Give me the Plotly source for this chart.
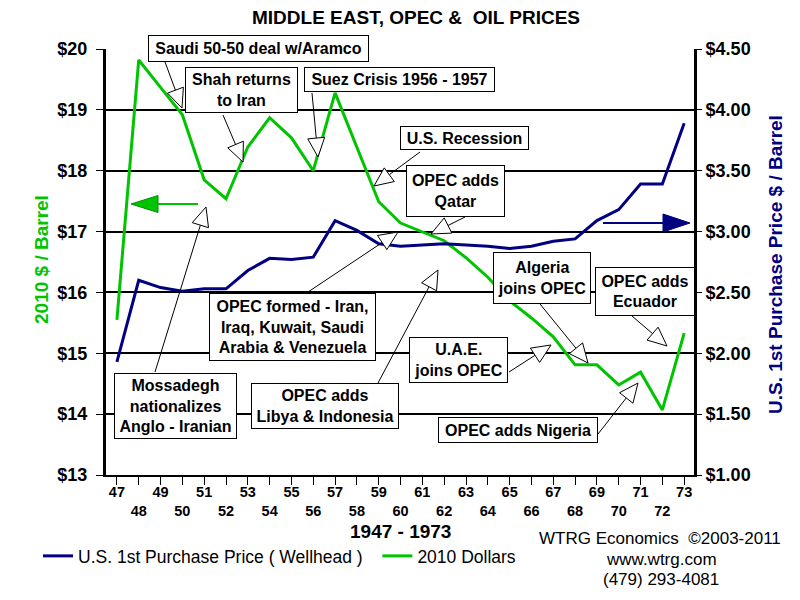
import math
import plotly.graph_objects as go

# ---------------- data ----------------
years = list(range(1947, 1974))
tick_text = [str(y % 100) if y % 2 == 1 else "<br>" + str(y % 100) for y in years]

price_2010 = [15.55, 19.82, 19.37, 18.92, 17.85, 17.54, 18.39, 18.87, 18.54, 18.00,
              19.28, 18.39, 17.49, 17.14, 16.99, 16.85, 16.57, 16.25, 15.86, 15.58,
              15.27, 14.81, 14.81, 14.48, 14.69, 14.07, 15.33]

price_nominal = [1.93, 2.60, 2.54, 2.51, 2.53, 2.53, 2.68, 2.78, 2.77, 2.79,
                 3.09, 3.01, 2.90, 2.88, 2.89, 2.90, 2.89, 2.88, 2.86, 2.88,
                 2.92, 2.94, 3.09, 3.18, 3.39, 3.39, 3.89]

GREEN = "#00C400"
NAVY = "#000080"
FONT = "Arial, Liberation Sans, sans-serif"

# plot area in pixels
L, R, T, B = 106, 694, 49, 475


def px(x):
    return (x - L) / (R - L)


def py(y):
    return (B - y) / (B - T)


fig = go.Figure()
fig.add_trace(go.Scatter(x=years, y=price_nominal, yaxis="y2", mode="lines",
                         line=dict(color=NAVY, width=3),
                         name="U.S. 1st Purchase Price ( Wellhead )\u00a0\u00a0"))
fig.add_trace(go.Scatter(x=years, y=price_2010, mode="lines",
                         line=dict(color=GREEN, width=3),
                         name="2010 Dollars"))

shapes = []


def add_arrow(tail, tip, head_len=19, half_w=8.5, color="black", fill="white",
              shaft_w=1, edge_w=1, edge_color="black"):
    dx, dy = tip[0] - tail[0], tip[1] - tail[1]
    d = math.hypot(dx, dy)
    ux, uy = dx / d, dy / d
    bx, by = tip[0] - ux * head_len, tip[1] - uy * head_len
    pxp, pyp = -uy, ux
    shapes.append(dict(type="line", xref="paper", yref="paper",
                       x0=px(tail[0]), y0=py(tail[1]), x1=px(bx), y1=py(by),
                       line=dict(color=color, width=shaft_w)))
    p1 = (bx + pxp * half_w, by + pyp * half_w)
    p2 = (bx - pxp * half_w, by - pyp * half_w)
    path = "M {:.5f},{:.5f} L {:.5f},{:.5f} L {:.5f},{:.5f} Z".format(
        px(tip[0]), py(tip[1]), px(p1[0]), py(p1[1]), px(p2[0]), py(p2[1]))
    shapes.append(dict(type="path", xref="paper", yref="paper", path=path,
                       fillcolor=fill, line=dict(color=edge_color, width=edge_w)))


# annotation arrows (tail, tip) in pixels
arrows = [
    ((165, 62), (182, 108)),
    ((223, 115), (243, 162)),
    ((312, 93), (318, 157)),
    ((420, 152), (374, 186)),
    ((465, 217), (431, 234)),
    ((308, 292), (398, 232)),
    ((155, 372), (206, 207)),
    ((378, 383), (438, 270)),
    ((540, 304), (588, 363)),
    ((632, 316), (667, 346)),
    ((509, 372), (551, 345)),
    ((598, 434), (638, 383)),
]
for tail, tip in arrows:
    add_arrow(tail, tip)

# series direction arrows
add_arrow((198, 204), (131, 204), head_len=27, half_w=8.5, color=GREEN, fill=GREEN,
          shaft_w=2, edge_color="#009000")
add_arrow((603, 223), (690, 223), head_len=27, half_w=9, color=NAVY, fill=NAVY,
          shaft_w=2, edge_color=NAVY)

# text boxes: text, center px, box size
boxes = [
    ("Saudi 50-50 deal w/Aramco", (258.5, 48.5), (221, 27)),
    ("Shah returns<br>to Iran", (241.5, 90), (113, 46)),
    ("Suez Crisis 1956 - 1957", (399.5, 79.5), (191, 25)),
    ("U.S. Recession", (464.5, 138), (129, 24)),
    ("OPEC adds<br>Qatar", (455.5, 191), (99, 52)),
    ("OPEC formed - Iran,<br>Iraq, Kuwait, Saudi<br>Arabia &amp; Venezuela", (292.5, 327), (167, 68)),
    ("Mossadegh<br>nationalizes<br>Anglo - Iranian", (175.5, 406), (123, 66)),
    ("OPEC adds<br>Libya &amp; Indonesia", (325, 406), (148, 46)),
    ("Algeria<br>joins OPEC", (542, 278), (98, 52)),
    ("OPEC adds<br>Ecuador", (645, 291.5), (100, 49)),
    ("U.A.E.<br>joins OPEC", (458.5, 360), (99, 46)),
    ("OPEC adds Nigeria", (518, 430), (160, 26)),
]
annotations = []
for text, (cx, cy), (w, h) in boxes:
    annotations.append(dict(text=text, x=px(cx), y=py(cy), xref="paper", yref="paper",
                            showarrow=False, width=w - 4, height=h - 4,
                            borderpad=1, borderwidth=1, bordercolor="black",
                            bgcolor="white", xanchor="center", yanchor="middle",
                            font=dict(family=FONT, size=16, color="black", weight="bold")))


def free_text(text, cx, cy, size, color="black", bold=False, angle=0):
    annotations.append(dict(text=text, x=px(cx), y=py(cy), xref="paper", yref="paper",
                            showarrow=False, textangle=angle,
                            xanchor="center", yanchor="middle",
                            font=dict(family=FONT, size=size, color=color,
                                      weight="bold" if bold else "normal")))


# axis titles
free_text("2010 $ / Barrel", 41, 260, 19, GREEN, True, -90)
free_text("U.S. 1st Purchase Price $ / Barrel", 775, 265, 19, NAVY, True, -90)

# footer texts
free_text("1947 - 1973", 401, 531, 19, bold=True)
free_text("WTRG Economics\u00a0 \u00a92003-2011", 660, 538, 17)
free_text("www.wtrg.com", 661, 559, 17)
free_text("(479) 293-4081", 661, 579, 17)

fig.update_layout(
    width=800, height=600,
    margin=dict(l=L, r=800 - R, t=T, b=600 - B, autoexpand=False),
    paper_bgcolor="white", plot_bgcolor="white",
    title=dict(text="MIDDLE EAST, OPEC &\u00a0 OIL PRICES", x=px(416), xref="paper",
               xanchor="center", y=1 - 17 / 600, yanchor="middle",
               font=dict(family=FONT, size=19, color="black", weight="bold")),
    showlegend=True,
    legend=dict(orientation="h", x=px(38), y=py(556), xref="paper", yref="paper",
                xanchor="left", yanchor="middle", bgcolor="rgba(0,0,0,0)",
                font=dict(family=FONT, size=17.5, color="black")),
    xaxis=dict(range=[1946.5, 1973.45], tickmode="array", tickvals=years,
               ticktext=tick_text, ticks="outside", ticklen=8, tickcolor="black",
               tickwidth=1, showgrid=False, zeroline=False, showline=True,
               linecolor="black", linewidth=2, ticklabelstandoff=-5,
               tickfont=dict(family=FONT, size=14.5, color="black", weight="bold")),
    yaxis=dict(range=[13, 20], dtick=1, tick0=13, tickprefix="$", ticks="outside",
               ticklen=7, tickcolor="black", showgrid=True, gridcolor="black",
               gridwidth=2, zeroline=False, showline=True, linecolor="black",
               linewidth=3, ticklabelstandoff=5,
               tickfont=dict(family=FONT, size=18, color="black", weight="bold")),
    yaxis2=dict(range=[1, 4.5], dtick=0.5, tick0=1, tickprefix="$", tickformat=".2f",
                overlaying="y", side="right", ticks="outside", ticklen=5,
                tickcolor="black", showgrid=False, zeroline=False, showline=True,
                linecolor="black", linewidth=3,
                tickfont=dict(family=FONT, size=18, color="black", weight="bold")),
    shapes=shapes,
    annotations=annotations,
)

fig.write_html("out.html", config={"displayModeBar": False},
               post_script="document.body.style.margin='0px';document.body.style.overflow='hidden';")
